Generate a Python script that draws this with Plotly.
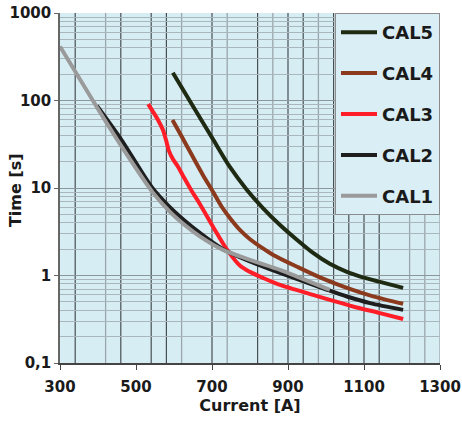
import plotly.graph_objects as go

# ---- data ----
cal1_x = [300, 400, 463, 545, 590, 629, 668, 729, 800, 879, 932, 1010]
cal1_y = [415, 80, 29.4, 8.8, 5.3, 3.75, 2.8, 1.96, 1.51, 1.16, 0.94, 0.686]

cal2_x = [397, 462, 541, 585, 629, 668, 729, 800, 879, 1003, 1055, 1116, 1203]
cal2_y = [87, 35.3, 10.3, 6.3, 4.2, 3.07, 2.0, 1.45, 1.07, 0.686, 0.575, 0.483, 0.405]

cal3_x = [532, 558, 571, 579, 587, 597, 611, 624, 647, 668, 703, 740, 774, 800, 834, 879, 966, 1010, 1071, 1142, 1203]
cal3_y = [91, 60, 46, 35.3, 26.4, 21.4, 17.4, 13.7, 9.2, 6.57, 3.59, 1.96, 1.29, 1.10, 0.94, 0.78, 0.6, 0.527, 0.442, 0.372, 0.318]

cal4_x = [596, 621, 647, 676, 703, 726, 747, 774, 800, 832, 861, 924, 984, 1055, 1124, 1203]
cal4_y = [59.7, 38.2, 23.8, 14.1, 9.0, 6.07, 4.55, 3.3, 2.6, 2.07, 1.72, 1.26, 0.953, 0.723, 0.578, 0.475]

cal5_x = [597, 650, 703, 747, 792, 834, 879, 924, 966, 1010, 1055, 1097, 1142, 1203]
cal5_y = [208, 86, 35.8, 17.4, 9.5, 5.9, 3.78, 2.55, 1.81, 1.36, 1.10, 0.953, 0.846, 0.723]

series_names = ["CAL5", "CAL4", "CAL3", "CAL2", "CAL1"]
series_x = [cal5_x, cal4_x, cal3_x, cal2_x, cal1_x]
series_y = [cal5_y, cal4_y, cal3_y, cal2_y, cal1_y]
series_colors = ["#1f2a12", "#8b3a1e", "#ff1e28", "#1e1e1e", "#9a9a9a"]

x_ticks = [300, 500, 700, 900, 1100, 1300]
y_ticks = [0.1, 1, 10, 100, 1000]
y_ticktext = ["0,1", "1", "10", "100", "1000"]

grid_dark = [340, 460, 540, 580, 700, 820, 900, 940, 1020, 1060, 1100, 1140]
grid_light = [420, 620, 740, 860, 980, 1220, 1260, 1300]

FONT = "Verdana, DejaVu Sans, sans-serif"

fig = go.Figure()
for name, xs, ys, col in zip(series_names, series_x, series_y, series_colors):
    fig.add_trace(go.Scatter(
        x=xs, y=ys, name=name, mode="lines",
        line=dict(color=col, width=4, shape="spline", smoothing=0.8),
        legendgroup=name,
    ))

shapes = []
for gx in grid_light:
    shapes.append(dict(type="line", xref="x", yref="paper", x0=gx, x1=gx, y0=0, y1=1,
                       line=dict(color="#9aa6ab", width=1.3), layer="below"))
for gx in grid_dark:
    shapes.append(dict(type="line", xref="x", yref="paper", x0=gx, x1=gx, y0=0, y1=1,
                       line=dict(color="#474f53", width=1.2), layer="below"))

fig.update_layout(
    width=462, height=421,
    margin=dict(l=60, r=22, t=13, b=58),
    paper_bgcolor="white",
    plot_bgcolor="#d7edf4",
    font=dict(family=FONT, size=15, color="#1a1a1a", weight="bold"),
    shapes=shapes,
    showlegend=True,
    legend=dict(
        x=1, xanchor="right", y=1, yanchor="top",
        bgcolor="#d9eef5", bordercolor="#8c8c8c", borderwidth=1,
        font=dict(family=FONT, size=18, color="#1a1a1a", weight="bold"),
        tracegroupgap=14.5,
        itemwidth=36,
    ),
    annotations=[dict(
        text="Time [s]", textangle=-90, showarrow=False,
        xref="paper", yref="paper", x=0, y=0.494, xanchor="center", yanchor="middle",
        xshift=-45, font=dict(size=16),
    )],
)

fig.update_xaxes(
    range=[300, 1300], automargin=False,
    tickmode="array", tickvals=x_ticks,
    showgrid=False, zeroline=False,
    showline=True, linecolor="#444", linewidth=1.5,
    ticks="outside", ticklen=5, tickcolor="#444",
    ticklabelstandoff=4,
    tickfont=dict(size=15),
    title=dict(text="Current [A]", font=dict(size=16), standoff=4),
)
fig.update_yaxes(
    type="log", range=[-1, 3], automargin=False,
    tickmode="array", tickvals=y_ticks, ticktext=y_ticktext,
    showgrid=True, gridcolor="#8c979c", gridwidth=1.2,
    minor=dict(dtick="D1", showgrid=True, gridcolor="#a9b6bb", gridwidth=1),
    zeroline=False,
    showline=True, linecolor="#666", linewidth=1.5,
    ticks="outside", ticklen=4, tickcolor="#666",
    tickfont=dict(size=15),
)

fig.write_html("out.html", config={"displayModeBar": False},
               post_script="document.body.style.margin='0px';")
